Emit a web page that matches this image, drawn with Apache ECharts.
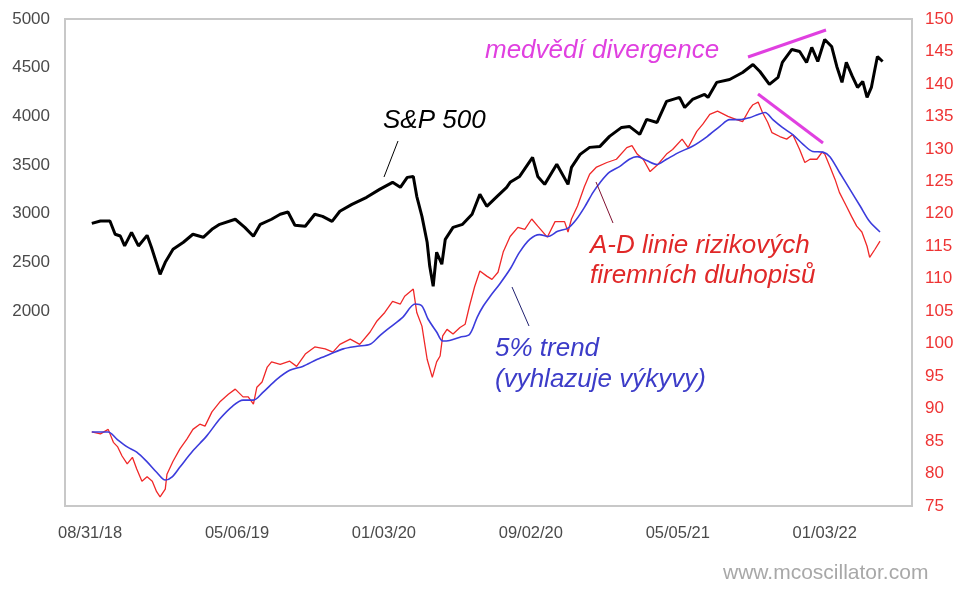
<!DOCTYPE html>
<html>
<head>
<meta charset="utf-8">
<script src="https://cdn.jsdelivr.net/npm/echarts@6/dist/echarts.min.js"></script>
<style>html,body{margin:0;padding:0;background:#fff;}#c{width:971px;height:596px;}</style>
</head>
<body>
<div id="c"></div>
<script>
// x = trading-day index from 08/31/18
const xTickDays = [0,170,340,510,680,850];
const xTickLabels = ['08/31/18','05/06/19','01/03/20','09/02/20','05/05/21','01/03/22'];
const leftTickLabels = [2000,2500,3000,3500,4000,4500,5000];

const spDays = [2,12,23,29,35,40,48,56,66,71,81,87,96,108,119,131,141,150,168,179,189,197,210,220,229,237,249,260,269,280,289,303,320,335,350,359,367,374,378,384,390,393,397,401,407,411,420,431,442,451,459,471,482,486,497,512,518,526,540,553,557,567,578,590,601,615,624,636,644,656,667,682,688,697,711,715,725,740,755,767,775,786,796,801,812,821,829,835,842,850,858,864,870,875,882,888,894,899,904,908,911,917];
const spValues = [2902,2926,2926,2790,2772,2670,2810,2670,2779,2656,2379,2502,2636,2708,2790,2759,2841,2892,2944,2861,2769,2892,2944,2995,3018,2882,2872,2995,2974,2923,3026,3097,3169,3251,3323,3272,3374,3384,3179,2974,2708,2461,2256,2605,2482,2738,2861,2892,2995,3200,3077,3179,3272,3323,3384,3579,3384,3302,3508,3302,3477,3610,3682,3692,3795,3887,3897,3815,3969,3938,4154,4195,4092,4174,4225,4195,4349,4379,4451,4533,4461,4328,4400,4554,4687,4666,4554,4708,4564,4790,4718,4513,4349,4554,4410,4297,4359,4195,4297,4482,4615,4564];

const adDays = [2,12,21,27,32,37,43,49,54,60,66,72,77,81,87,89,96,104,112,119,127,133,141,150,160,168,177,183,189,193,199,205,210,220,231,239,249,260,272,281,289,301,312,324,332,341,350,359,364,374,378,384,390,396,401,405,408,413,420,428,434,439,445,451,459,465,472,478,486,495,503,511,518,529,538,549,553,557,564,572,578,586,598,609,621,627,633,640,648,657,667,674,685,692,702,709,717,726,738,748,755,763,767,773,778,784,789,798,806,813,821,827,833,841,847,850,856,862,867,875,881,887,893,899,902,908,914];
const adValues = [86.4,86.1,86.8,84.8,84.1,82.7,81.5,82.5,80.7,78.8,79.5,78.8,77.2,76.4,77.6,79.9,81.9,83.8,85.3,86.8,87.6,87.3,89.5,91.0,92.2,93.0,91.8,91.8,90.7,93.3,94.1,96.4,97.2,96.8,97.3,96.5,98.4,99.5,99.2,98.7,99.9,100.7,99.9,101.8,103.5,104.8,106.5,106.1,107.3,108.4,104.8,102.7,97.6,94.8,97.2,98.1,101.2,102.2,101.5,102.5,103.0,105.8,108.8,111.2,110.4,109.9,111.0,114.1,116.5,117.9,117.6,119.2,118.1,116.4,118.8,118.8,117.2,119.2,121.2,124.2,126.1,127.2,127.9,128.4,130.2,130.5,129.2,128.4,126.5,127.6,129.2,129.9,131.5,130.2,132.7,133.8,135.3,135.8,135.0,134.5,134.2,136.1,136.8,137.2,135.6,134.1,132.5,131.9,131.5,132.2,129.9,127.9,128.4,128.4,129.5,129.2,127.3,125.3,123.3,121.2,119.6,118.1,117.2,115.0,113.3,114.5,115.8];

const trDays = [2,21,31,43,54,66,77,87,95,104,119,135,150,165,177,189,200,216,231,246,263,278,293,309,324,335,347,362,376,384,391,401,408,416,428,439,448,455,463,474,486,497,509,520,530,541,553,563,572,582,590,601,613,624,633,644,656,667,682,697,714,729,740,752,763,773,781,790,801,813,825,836,848,856,867,879,891,902,914];
const trValues = [86.4,86.4,85.3,84.1,83.3,81.8,80.2,79.0,79.5,81.0,83.5,85.8,88.4,90.4,91.3,91.3,92.5,94.5,95.9,96.5,97.6,98.4,99.2,99.6,99.9,101.2,102.5,104.1,106.1,105.8,103.8,101.8,100.4,100.5,101.0,101.4,104.1,105.8,107.3,109.2,111.5,114.1,116.1,116.8,116.5,117.3,117.8,119.2,121.0,123.3,124.8,126.4,127.3,128.4,128.8,128.2,127.6,128.4,129.5,130.4,131.9,133.5,134.5,134.5,134.8,135.3,135.6,134.5,133.3,132.2,130.7,129.6,129.5,128.8,126.4,123.8,121.2,118.8,117.2];

const zip = (a, b) => a.map((d, i) => [d, b[i]]);
const FF = '"Liberation Sans", Arial, sans-serif';

const chart = echarts.init(document.getElementById('c'), null, {width: 971, height: 596, renderer: 'canvas'});

function txt(t, x, y, color, size) {
  return {type: 'text', z: 100, style: {text: t, x: x, y: y, fill: color, fontSize: size, fontStyle: 'italic', fontFamily: FF, verticalAlign: 'middle', align: 'left'}};
}
function ln(x1, y1, x2, y2, color, w) {
  return {type: 'line', z: 100, shape: {x1: x1, y1: y1, x2: x2, y2: y2}, style: {stroke: color, lineWidth: w}};
}

chart.setOption({
  animation: false,
  backgroundColor: '#fff',
  grid: {left: 65, right: 59, top: 19, bottom: 90, show: true, borderColor: '#c8c8c8', borderWidth: 2, backgroundColor: '#fff'},
  xAxis: {
    type: 'value', min: -29, max: 951,
    axisLine: {show: false}, axisTick: {show: false}, splitLine: {show: false},
    axisLabel: {customValues: xTickDays, formatter: v => xTickLabels[xTickDays.indexOf(v)] || '', color: '#4a4a4a', fontSize: 16.5, fontFamily: FF, margin: 19}
  },
  yAxis: [
    {type: 'value', min: 0, max: 5000, interval: 500, position: 'left',
     axisLine: {show: false}, axisTick: {show: false}, splitLine: {show: false},
     axisLabel: {customValues: leftTickLabels, formatter: v => String(v), color: '#4a4a4a', fontSize: 17, fontFamily: FF, margin: 15}},
    {type: 'value', min: 75, max: 150, interval: 5, position: 'right',
     axisLine: {show: false}, axisTick: {show: false}, splitLine: {show: false},
     axisLabel: {formatter: v => String(v), color: '#ee3333', fontSize: 17, fontFamily: FF, margin: 13}}
  ],
  series: [
    {name: 'A-D', type: 'line', yAxisIndex: 1, data: zip(adDays, adValues), showSymbol: false, lineStyle: {color: '#f02828', width: 1.3}, z: 2},
    {name: 'trend', type: 'line', yAxisIndex: 1, data: zip(trDays, trValues), showSymbol: false, smooth: 0.3, lineStyle: {color: '#3c3cdc', width: 1.6}, z: 3},
    {name: 'S&P 500', type: 'line', yAxisIndex: 0, data: zip(spDays, spValues), showSymbol: false, lineStyle: {color: '#000', width: 3}, z: 4}
  ],
  graphic: [
    txt('S&P 500', 383, 121, '#000', 26),
    ln(398, 141, 384, 177, '#000', 1),
    txt('medvědí divergence', 485, 51, '#e040e0', 26),
    ln(748, 57, 826, 30, '#e040e0', 3),
    ln(758, 94, 823, 143, '#e040e0', 3),
    txt('A-D linie rizikových', 590, 246, '#e02828', 26),
    txt('firemních dluhopisů', 590, 276, '#e02828', 26),
    ln(596, 182, 613, 223, '#801030', 1),
    txt('5% trend', 495, 349, '#3c3cc8', 26),
    txt('(vyhlazuje výkyvy)', 495, 380, '#3c3cc8', 26),
    ln(512, 287, 529, 326, '#202070', 1),
    {type: 'text', z: 100, style: {text: 'www.mcoscillator.com', x: 723, y: 573, fill: '#a8a8a8', fontSize: 21, fontFamily: FF, verticalAlign: 'middle', align: 'left'}}
  ]
});
</script>
</body>
</html>
